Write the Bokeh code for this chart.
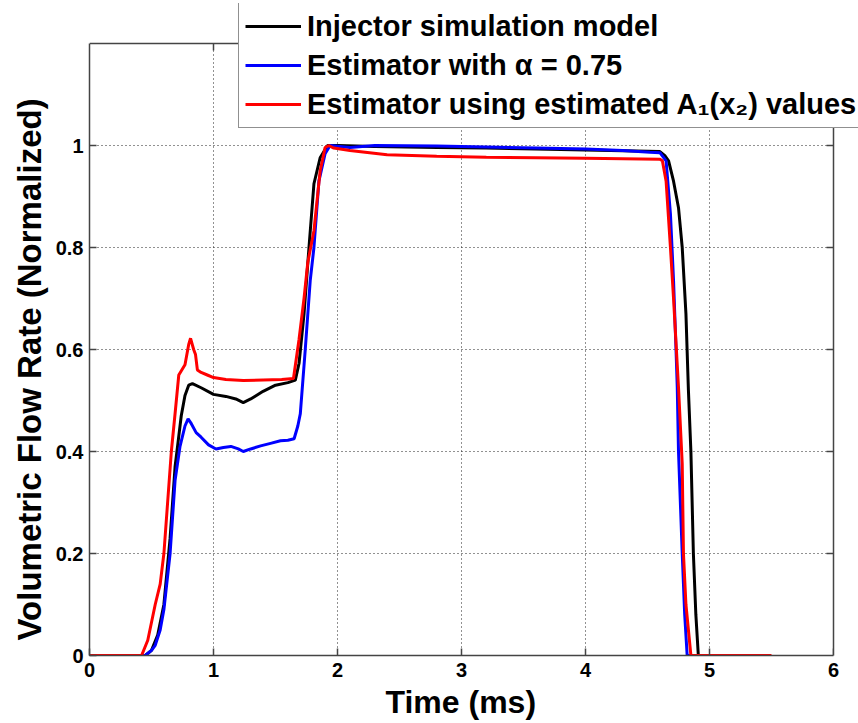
import math
from bokeh.plotting import figure
from bokeh.models import (FixedTicker, Legend, LegendItem, Range1d,
                          BoxAnnotation, Span, Title)
from bokeh.embed import file_html
from bokeh.resources import INLINE

# ---- data ----
t_model = [0, 0.45, 0.5, 0.55, 0.6, 0.65, 0.69, 0.71, 0.74, 0.77, 0.8, 0.83, 0.9, 1.0, 1.1,
           1.18, 1.24, 1.3, 1.4, 1.5, 1.6, 1.66, 1.69, 1.73, 1.77, 1.81, 1.86, 1.92, 2.0,
           2.3, 2.8, 3.2, 3.6, 4.0, 4.4, 4.6, 4.64, 4.67, 4.71, 4.75, 4.78, 4.81, 4.83,
           4.85, 4.87, 4.89, 4.91, 5.0]
v_model = [0, 0, 0.01, 0.04, 0.10, 0.23, 0.37, 0.41, 0.47, 0.51, 0.53, 0.533, 0.525, 0.512,
           0.508, 0.503, 0.496, 0.503, 0.518, 0.53, 0.535, 0.54, 0.573, 0.67, 0.80, 0.925,
           0.976, 1.0, 1.0, 0.998, 0.996, 0.995, 0.993, 0.991, 0.989, 0.988, 0.98, 0.97,
           0.93, 0.878, 0.80, 0.67, 0.52, 0.40, 0.20, 0.08, 0.0, 0.0]

t_alpha = [0, 0.45, 0.5, 0.53, 0.57, 0.6, 0.65, 0.69, 0.73, 0.77, 0.795, 0.82, 0.86, 0.9,
           0.96, 1.02, 1.08, 1.14, 1.2, 1.24, 1.3, 1.38, 1.46, 1.54, 1.6, 1.65, 1.68, 1.70,
           1.74, 1.78, 1.81, 1.85, 1.9, 1.94, 2.1, 2.3, 2.8, 3.2, 3.6, 4.0, 4.3, 4.52, 4.6,
           4.65, 4.685, 4.71, 4.73, 4.74, 4.75, 4.78, 4.8, 4.82, 5.0]
v_alpha = [0, 0, 0.01, 0.02, 0.05, 0.09, 0.2, 0.343, 0.41, 0.45, 0.464, 0.455, 0.437, 0.428,
           0.413, 0.405, 0.408, 0.41, 0.405, 0.40, 0.405, 0.411, 0.416, 0.421, 0.422, 0.425,
           0.45, 0.474, 0.60, 0.735, 0.80, 0.93, 0.984, 1.0, 0.996, 1.0, 0.999, 0.997,
           0.995, 0.993, 0.99, 0.987, 0.986, 0.97, 0.866, 0.735, 0.6, 0.526, 0.40, 0.2,
           0.08, 0.0, 0.0]

t_est = [0, 0.42, 0.47, 0.53, 0.57, 0.6, 0.66, 0.69, 0.72, 0.77, 0.8, 0.815, 0.84, 0.855,
         0.87, 0.9, 0.95, 1.0, 1.1, 1.24, 1.4, 1.55, 1.645, 1.69, 1.73, 1.76, 1.81, 1.86,
         1.9, 1.93, 1.97, 2.1, 2.4, 2.8, 3.2, 3.6, 4.0, 4.3, 4.6, 4.62, 4.65, 4.685, 4.71,
         4.75, 4.78, 4.79, 4.81, 4.85, 5.5]
v_est = [0, 0, 0.03, 0.10, 0.14, 0.20, 0.40, 0.474, 0.55, 0.57, 0.61, 0.622, 0.6, 0.59,
         0.56, 0.555, 0.55, 0.545, 0.541, 0.539, 0.54, 0.541, 0.543, 0.62, 0.70, 0.77,
         0.833, 0.95, 0.996, 1.0, 0.995, 0.99, 0.982, 0.979, 0.977, 0.976, 0.975, 0.974,
         0.973, 0.97, 0.93, 0.80, 0.70, 0.526, 0.376, 0.2, 0.1, 0.0, 0.0]

x_ticks = [0, 1, 2, 3, 4, 5, 6]
y_ticks = [0, 0.2, 0.4, 0.6, 0.8, 1.0]
y_tick_labels = {0: "0", 0.2: "0.2", 0.4: "0.4", 0.6: "0.6", 0.8: "0.8", 1.0: "1"}
x_max = 6
y_max = 1.2

labels = ["Injector simulation model",
          "Estimator with \u03b1 = 0.75",
          "Estimator using estimated A\u2081(x\u2082) values"]
colors = ["#000000", "#0000ff", "#ff0000"]

FONT = "Liberation Sans"
AXIS_COLOR = "#444444"

# The frame is larger than the axes box (so the legend can overhang it, as in the
# reference); the box itself is drawn from x in [0, x_max], y in [0, y_max].
W, H = 858, 723
BOX_L, BOX_R, BOX_T, BOX_B = 89, 833, 43, 655
FRAME_TOP, FRAME_RIGHT = 3, W
y_top = y_max * (BOX_B - FRAME_TOP) / (BOX_B - BOX_T)
x_right = x_max * (FRAME_RIGHT - BOX_L) / (BOX_R - BOX_L)

p = figure(width=W, height=H, output_backend="svg", toolbar_location=None,
           x_range=Range1d(0, x_right), y_range=Range1d(0, y_top),
           min_border_left=BOX_L, min_border_right=W - FRAME_RIGHT,
           min_border_top=FRAME_TOP, min_border_bottom=H - BOX_B)
p.background_fill_color = "white"
p.border_fill_color = "white"
p.outline_line_color = None

# main axes
for ax, ticks in ((p.xaxis[0], x_ticks), (p.yaxis[0], y_ticks)):
    ax.ticker = FixedTicker(ticks=ticks)
    ax.axis_line_color = AXIS_COLOR
    ax.axis_line_width = 1.5
    ax.major_tick_line_color = AXIS_COLOR
    ax.major_tick_line_width = 1.5
    ax.major_tick_in = 7
    ax.major_tick_out = 0
    ax.minor_tick_line_color = None
    ax.major_label_text_font = FONT
    ax.major_label_text_font_style = "bold"
    ax.major_label_text_font_size = "20px"
    ax.major_label_text_color = "black"
    ax.major_label_standoff = 6
p.yaxis[0].major_label_overrides = y_tick_labels
p.yaxis[0].bounds = (0, y_max)
p.xaxis[0].bounds = (0, x_max)
p.xaxis[0].major_label_standoff = 7

# axis titles, placed along the axes box like the reference
ytitle = Title(text="Volumetric Flow Rate (Normalized)", align="left", offset=15,
               text_font=FONT, text_font_style="bold", text_font_size="33px",
               text_color="black")
p.add_layout(ytitle, "left")
xtitle = Title(text="Time (ms)", align="left", offset=296,
               text_font=FONT, text_font_style="bold", text_font_size="32px",
               text_color="black")
try:
    xtitle.standoff = 4
except AttributeError:
    pass
p.add_layout(xtitle, "below")

# grid
p.xgrid.ticker = FixedTicker(ticks=x_ticks[1:-1])
p.ygrid.ticker = FixedTicker(ticks=y_ticks[1:])
for g in (p.xgrid[0], p.ygrid[0]):
    g.grid_line_color = "#222222"
    g.grid_line_width = 1
    g.grid_line_dash = "1 3"

# blank the strips outside the axes box, then draw its top and right edges
p.add_layout(BoxAnnotation(bottom=y_max, fill_color="white", fill_alpha=1, line_color=None))
p.add_layout(BoxAnnotation(left=x_max, fill_color="white", fill_alpha=1, line_color=None))
p.add_layout(Span(location=y_max, dimension="width", line_color=AXIS_COLOR, line_width=1.5))
p.add_layout(Span(location=x_max, dimension="height", line_color=AXIS_COLOR, line_width=1.5))
# inward ticks on the top and right edges
top_x = x_ticks[1:-1]
p.ray(x=top_x, y=[y_max] * len(top_x), length=7, length_units="screen",
      angle=-math.pi / 2, line_color=AXIS_COLOR, line_width=1.5)
right_y = y_ticks[1:]
p.ray(x=[x_max] * len(right_y), y=right_y, length=7, length_units="screen",
      angle=math.pi, line_color=AXIS_COLOR, line_width=1.5)

r1 = p.line(t_model, v_model, line_color=colors[0], line_width=3)
r2 = p.line(t_alpha, v_alpha, line_color=colors[1], line_width=3)
r3 = p.line(t_est, v_est, line_color=colors[2], line_width=3)

legend = Legend(items=[LegendItem(label=labels[0], renderers=[r1]),
                       LegendItem(label=labels[1], renderers=[r2]),
                       LegendItem(label=labels[2], renderers=[r3])],
                location=(149, 527))
legend.label_text_font = FONT
legend.label_text_font_style = "bold"
legend.label_text_font_size = "29px"
legend.label_text_color = "black"
legend.label_standoff = 6
legend.label_width = 560
legend.glyph_width = 56
legend.glyph_height = 34
legend.label_height = 34
legend.spacing = 5
legend.padding = 6
legend.margin = 0
legend.border_line_color = "#222222"
legend.border_line_width = 1.5
legend.background_fill_color = "white"
legend.background_fill_alpha = 1
p.add_layout(legend, "center")

open("out.html", "w").write(file_html(p, INLINE))
